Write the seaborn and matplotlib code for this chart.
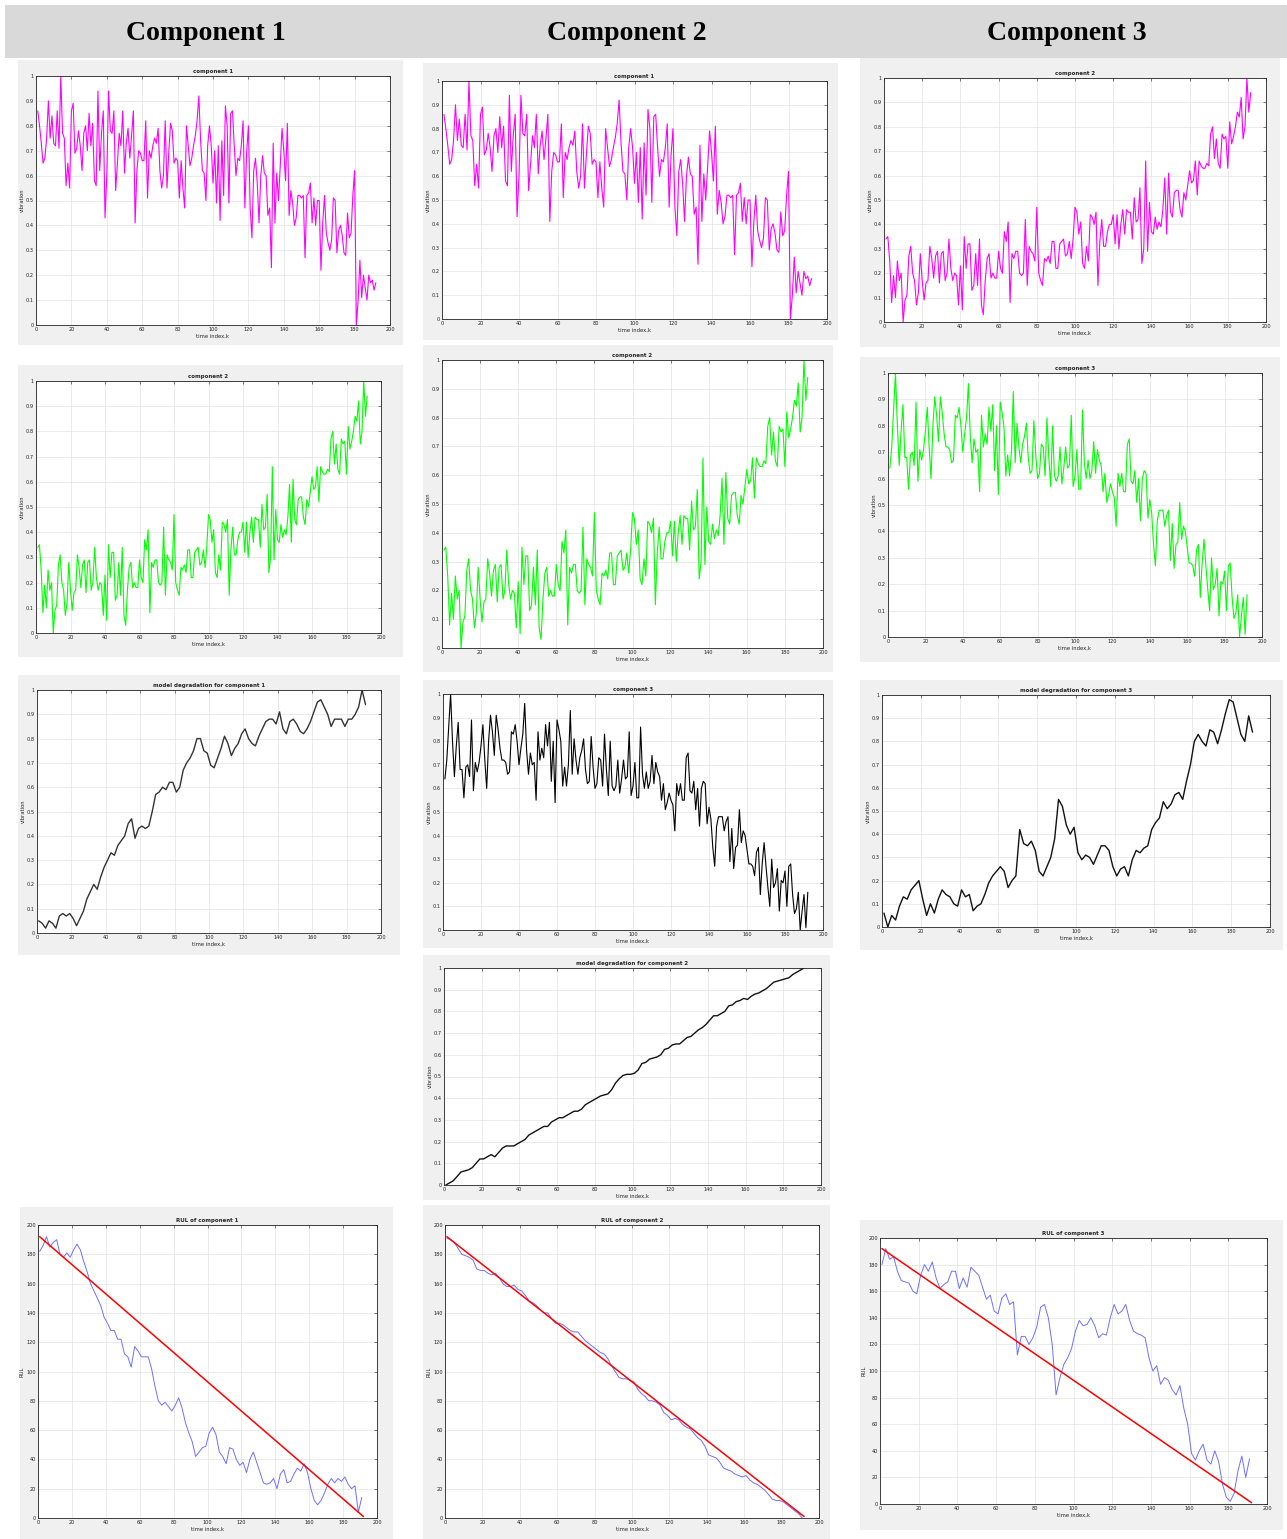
import numpy as np
import matplotlib
matplotlib.use("Agg")
from matplotlib import pyplot as plt
from matplotlib.patches import Rectangle
from matplotlib.ticker import FuncFormatter
import seaborn as sns

# raw vibration signals, one value per time index k = 1..192
comp1 = [0.86, 0.80, 0.73, 0.65, 0.67, 0.75, 0.90, 0.75, 0.84, 0.73,
         0.72, 0.86, 0.71, 1.00, 0.77, 0.75, 0.56, 0.65, 0.55, 0.86,
         0.89, 0.69, 0.71, 0.78, 0.72, 0.62, 0.77, 0.80, 0.70, 0.85,
         0.72, 0.81, 0.58, 0.56, 0.94, 0.62, 0.77, 0.86, 0.43, 0.60,
         0.94, 0.78, 0.77, 0.86, 0.54, 0.65, 0.77, 0.72, 0.86, 0.61,
         0.73, 0.79, 0.67, 0.76, 0.86, 0.41, 0.62, 0.70, 0.69, 0.66,
         0.66, 0.82, 0.51, 0.70, 0.67, 0.72, 0.75, 0.73, 0.79, 0.62,
         0.55, 0.60, 0.82, 0.55, 0.69, 0.81, 0.78, 0.65, 0.67, 0.66,
         0.51, 0.66, 0.55, 0.47, 0.80, 0.72, 0.64, 0.67, 0.72, 0.76,
         0.82, 0.92, 0.74, 0.62, 0.61, 0.50, 0.72, 0.80, 0.72, 0.57,
         0.70, 0.49, 0.72, 0.42, 0.74, 0.52, 0.88, 0.80, 0.49, 0.85,
         0.86, 0.72, 0.60, 0.67, 0.66, 0.72, 0.82, 0.47, 0.69, 0.80,
         0.47, 0.35, 0.62, 0.67, 0.57, 0.41, 0.60, 0.68, 0.61, 0.60,
         0.44, 0.47, 0.23, 0.73, 0.41, 0.61, 0.50, 0.64, 0.79, 0.70,
         0.58, 0.81, 0.44, 0.54, 0.49, 0.40, 0.43, 0.52, 0.52, 0.51,
         0.52, 0.27, 0.52, 0.53, 0.57, 0.41, 0.51, 0.40, 0.50, 0.50,
         0.22, 0.41, 0.52, 0.37, 0.33, 0.30, 0.34, 0.51, 0.50, 0.29,
         0.38, 0.40, 0.36, 0.29, 0.28, 0.45, 0.35, 0.37, 0.52, 0.62,
         0.00, 0.10, 0.26, 0.11, 0.20, 0.15, 0.10, 0.20, 0.17, 0.18,
         0.14, 0.17]

comp2 = [0.34, 0.35, 0.25, 0.08, 0.19, 0.10, 0.25, 0.17, 0.20, 0.00,
         0.09, 0.11, 0.27, 0.31, 0.20, 0.17, 0.07, 0.12, 0.28, 0.17,
         0.09, 0.16, 0.17, 0.31, 0.26, 0.18, 0.27, 0.29, 0.16, 0.28,
         0.29, 0.17, 0.20, 0.34, 0.22, 0.17, 0.20, 0.19, 0.07, 0.23,
         0.05, 0.35, 0.22, 0.32, 0.32, 0.13, 0.15, 0.28, 0.15, 0.34,
         0.07, 0.03, 0.17, 0.26, 0.28, 0.18, 0.20, 0.18, 0.18, 0.29,
         0.22, 0.20, 0.37, 0.33, 0.41, 0.08, 0.28, 0.26, 0.29, 0.29,
         0.20, 0.19, 0.20, 0.42, 0.15, 0.31, 0.29, 0.28, 0.25, 0.47,
         0.20, 0.17, 0.15, 0.26, 0.25, 0.27, 0.24, 0.33, 0.33, 0.22,
         0.22, 0.32, 0.33, 0.34, 0.27, 0.28, 0.33, 0.26, 0.34, 0.47,
         0.45, 0.36, 0.41, 0.24, 0.22, 0.31, 0.25, 0.44, 0.43, 0.40,
         0.45, 0.15, 0.33, 0.42, 0.31, 0.31, 0.37, 0.40, 0.40, 0.44,
         0.32, 0.44, 0.30, 0.40, 0.46, 0.36, 0.46, 0.45, 0.45, 0.34,
         0.51, 0.41, 0.42, 0.55, 0.24, 0.30, 0.66, 0.29, 0.49, 0.37,
         0.36, 0.43, 0.38, 0.41, 0.39, 0.46, 0.59, 0.36, 0.61, 0.45,
         0.43, 0.53, 0.54, 0.54, 0.46, 0.43, 0.53, 0.50, 0.56, 0.62,
         0.57, 0.58, 0.66, 0.52, 0.66, 0.64, 0.63, 0.63, 0.65, 0.64,
         0.77, 0.80, 0.67, 0.75, 0.65, 0.63, 0.77, 0.75, 0.76, 0.63,
         0.82, 0.73, 0.76, 0.80, 0.86, 0.84, 0.92, 0.75, 0.80, 1.00,
         0.86, 0.94]

comp3 = [0.64, 0.72, 0.86, 1.00, 0.80, 0.65, 0.78, 0.88, 0.68, 0.68,
         0.56, 0.69, 0.70, 0.65, 0.89, 0.59, 0.71, 0.67, 0.71, 0.78,
         0.87, 0.72, 0.60, 0.80, 0.91, 0.84, 0.74, 0.91, 0.85, 0.77,
         0.72, 0.72, 0.71, 0.66, 0.67, 0.84, 0.83, 0.87, 0.80, 0.70,
         0.77, 0.83, 0.96, 0.76, 0.66, 0.75, 0.70, 0.71, 0.55, 0.84,
         0.72, 0.77, 0.73, 0.87, 0.78, 0.88, 0.63, 0.80, 0.54, 0.89,
         0.85, 0.80, 0.61, 0.69, 0.61, 0.70, 0.93, 0.66, 0.81, 0.72,
         0.66, 0.73, 0.76, 0.81, 0.68, 0.62, 0.63, 0.82, 0.69, 0.60,
         0.62, 0.73, 0.72, 0.61, 0.83, 0.68, 0.57, 0.80, 0.61, 0.59,
         0.61, 0.72, 0.58, 0.64, 0.72, 0.64, 0.65, 0.84, 0.57, 0.61,
         0.71, 0.56, 0.56, 0.86, 0.66, 0.60, 0.67, 0.60, 0.63, 0.74,
         0.62, 0.71, 0.67, 0.65, 0.55, 0.62, 0.51, 0.54, 0.58, 0.55,
         0.53, 0.42, 0.62, 0.57, 0.62, 0.55, 0.55, 0.73, 0.75, 0.59,
         0.58, 0.63, 0.51, 0.60, 0.44, 0.60, 0.63, 0.62, 0.45, 0.52,
         0.47, 0.35, 0.27, 0.44, 0.48, 0.48, 0.48, 0.42, 0.46, 0.48,
         0.29, 0.43, 0.26, 0.35, 0.36, 0.51, 0.37, 0.42, 0.40, 0.34,
         0.28, 0.28, 0.27, 0.23, 0.33, 0.35, 0.15, 0.28, 0.37, 0.27,
         0.18, 0.10, 0.30, 0.18, 0.20, 0.26, 0.08, 0.21, 0.20, 0.25,
         0.10, 0.27, 0.28, 0.15, 0.07, 0.09, 0.16, 0.00, 0.08, 0.15,
         0.01, 0.16]

# model degradation curves, read at odd time indices k = 1, 3, ..., 191
degr1 = [0.05, 0.04, 0.02, 0.05, 0.04, 0.02, 0.07, 0.08, 0.07, 0.08,
         0.06, 0.03, 0.06, 0.09, 0.14, 0.17, 0.20, 0.18, 0.23, 0.27,
         0.30, 0.33, 0.32, 0.36, 0.38, 0.40, 0.45, 0.47, 0.39, 0.43,
         0.44, 0.43, 0.44, 0.50, 0.57, 0.58, 0.60, 0.59, 0.62, 0.62,
         0.58, 0.60, 0.67, 0.70, 0.72, 0.75, 0.80, 0.80, 0.75, 0.74,
         0.69, 0.68, 0.72, 0.76, 0.81, 0.78, 0.73, 0.76, 0.78, 0.82,
         0.84, 0.80, 0.78, 0.77, 0.81, 0.84, 0.87, 0.88, 0.88, 0.86,
         0.91, 0.84, 0.82, 0.87, 0.88, 0.86, 0.83, 0.82, 0.84, 0.87,
         0.91, 0.95, 0.96, 0.93, 0.90, 0.85, 0.88, 0.88, 0.88, 0.85,
         0.88, 0.88, 0.90, 0.93, 1.00, 0.94]

degr2 = [0.00, 0.01, 0.02, 0.04, 0.06, 0.065, 0.07, 0.08, 0.10, 0.12,
         0.12, 0.13, 0.14, 0.13, 0.15, 0.17, 0.18, 0.18, 0.18, 0.19,
         0.20, 0.21, 0.23, 0.24, 0.25, 0.26, 0.27, 0.27, 0.29, 0.30,
         0.31, 0.31, 0.32, 0.33, 0.34, 0.34, 0.35, 0.37, 0.38, 0.39,
         0.40, 0.41, 0.415, 0.42, 0.44, 0.47, 0.49, 0.505, 0.51, 0.51,
         0.515, 0.53, 0.56, 0.565, 0.58, 0.585, 0.59, 0.60, 0.625, 0.63,
         0.645, 0.65, 0.65, 0.665, 0.68, 0.685, 0.70, 0.715, 0.725, 0.74,
         0.76, 0.78, 0.78, 0.79, 0.80, 0.825, 0.83, 0.845, 0.85, 0.86,
         0.855, 0.87, 0.88, 0.885, 0.895, 0.905, 0.92, 0.935, 0.94, 0.945,
         0.95, 0.955, 0.97, 0.98, 0.99, 1.00]

degr3 = [0.06, 0.00, 0.05, 0.03, 0.09, 0.13, 0.12, 0.16, 0.18, 0.20,
         0.12, 0.05, 0.10, 0.06, 0.12, 0.16, 0.14, 0.13, 0.10, 0.09,
         0.16, 0.13, 0.14, 0.07, 0.09, 0.10, 0.14, 0.19, 0.22, 0.24,
         0.26, 0.24, 0.17, 0.20, 0.22, 0.42, 0.36, 0.35, 0.37, 0.33,
         0.24, 0.22, 0.26, 0.30, 0.38, 0.55, 0.52, 0.44, 0.40, 0.43,
         0.32, 0.29, 0.31, 0.30, 0.27, 0.31, 0.35, 0.35, 0.33, 0.26,
         0.22, 0.25, 0.26, 0.22, 0.29, 0.33, 0.32, 0.34, 0.35, 0.42,
         0.45, 0.47, 0.54, 0.51, 0.53, 0.57, 0.58, 0.55, 0.63, 0.70,
         0.80, 0.83, 0.80, 0.78, 0.85, 0.84, 0.79, 0.85, 0.92, 0.98,
         0.97, 0.90, 0.83, 0.80, 0.91, 0.84]

# estimated RUL, read at odd time indices k = 1, 3, ..., 191
rul1 = [182, 186, 192, 185, 188, 190, 180, 178, 181, 178,
        183, 187, 183, 175, 168, 160, 155, 150, 145, 137,
        133, 128, 128, 122, 122, 112, 110, 103, 117, 114,
        110, 110, 110, 102, 90, 80, 77, 79, 76, 73,
        77, 82, 75, 65, 58, 52, 42, 45, 48, 49,
        58, 62, 57, 45, 42, 37, 48, 47, 40, 36,
        38, 31, 40, 45, 38, 31, 24, 23, 24, 27,
        20, 30, 33, 24, 25, 30, 34, 32, 37, 31,
        20, 12, 9, 12, 17, 23, 27, 24, 27, 25,
        28, 23, 20, 22, 4, 14]

rul2 = [191, 190, 188, 184, 180, 179, 178, 176, 170, 169,
        169, 167, 166, 167, 164, 160, 158, 158, 159, 156,
        155, 152, 148, 147, 145, 142, 140, 140, 136, 133,
        133, 132, 130, 128, 127, 127, 124, 121, 119, 117,
        115, 113, 112, 109, 104, 100, 96, 95, 95, 94,
        93, 88, 85, 83, 80, 80, 79, 77, 72, 70,
        67, 68, 67, 64, 62, 61, 58, 55, 53, 49,
        43, 42, 41, 38, 34, 33, 32, 30, 29, 28,
        29, 26, 24, 23, 21, 19, 16, 13, 12, 12,
        11, 9, 7, 5, 3, 0]

rul3 = [180, 192, 184, 186, 175, 168, 167, 166, 160, 158,
        172, 180, 175, 182, 170, 162, 165, 167, 175, 175,
        162, 170, 163, 178, 175, 172, 163, 154, 157, 145,
        143, 155, 158, 150, 152, 112, 126, 126, 120, 125,
        133, 148, 150, 140, 120, 82, 95, 105, 110, 117,
        130, 138, 134, 135, 140, 134, 125, 128, 127, 140,
        150, 143, 145, 150, 138, 130, 128, 127, 125, 110,
        100, 104, 90, 95, 93, 86, 82, 89, 72, 60,
        38, 33, 40, 45, 33, 30, 40, 32, 15, 5,
        2, 8, 25, 36, 20, 34]

# true RUL straight line (end points)
true_k = [1, 192]
true_rul = [192, 1]

headers = ["Component 1", "Component 2", "Component 3"]

W, H = 1287, 1539

sns.set_style("white")
fig = plt.figure(figsize=(W / 100, H / 100), dpi=100)
fig.patch.set_facecolor("white")


def fbox(x0, y0, x1, y1):
    """pixel box (top-left origin) -> figure fraction [l, b, w, h]"""
    return [x0 / W, 1 - y1 / H, (x1 - x0) / W, (y1 - y0) / H]


def add_bg(x0, y0, x1, y1, color):
    l, b, w, h = fbox(x0, y0, x1, y1)
    fig.add_artist(Rectangle((l, b), w, h, transform=fig.transFigure,
                             facecolor=color, edgecolor="none", zorder=0))


fmt = FuncFormatter(lambda v, p: "%g" % round(v, 2))


def panel(bg, box, title, y, color, lw=0.8, step=1, ylabel="vibration", rul=False):
    add_bg(*bg, "#f0f0f0")
    ax = fig.add_axes(fbox(*box))
    ax.set_facecolor("white")
    x = np.arange(1, step * len(y) + 1, step)
    sns.lineplot(x=x, y=y, ax=ax, color=color, linewidth=lw, estimator=None, sort=False)
    if rul:
        sns.lineplot(x=true_k, y=true_rul, ax=ax, color="#ff0000", linewidth=1.1,
                     estimator=None, sort=False)
        ax.set_ylim(0, 200)
        ax.set_yticks(np.arange(0, 201, 20))
    else:
        ax.set_ylim(0, 1)
        ax.set_yticks(np.arange(0, 1.01, 0.1))
    ax.set_xlim(0, 200)
    ax.set_xticks(np.arange(0, 201, 20))
    ax.yaxis.set_major_formatter(fmt)
    ax.grid(True, color="#e3e3e3", linewidth=0.5)
    ax.set_axisbelow(True)
    for s in ax.spines.values():
        s.set_linewidth(0.6)
        s.set_color("#222222")
    ax.tick_params(direction="in", length=2, width=0.4, labelsize=3.6, pad=1.5,
                   top=True, right=True, colors="#222222")
    ax.set_title(title, fontsize=4, fontweight="bold", pad=2)
    ax.set_xlabel("time index,k", fontsize=3.8, labelpad=1)
    ax.set_ylabel(ylabel, fontsize=3.8, labelpad=1)
    return ax


# header band
add_bg(5, 5, 1287, 58, "#d9d9d9")
for cx, h in zip([206, 627, 1067], headers):
    fig.text(cx / W, 1 - 33 / H, h, ha="center", va="center", fontsize=20,
             fontweight="bold", family="Liberation Serif", color="black")

# column 1
panel((18, 60, 403, 345), (36, 76, 390, 325), "component 1", comp1, "#ff00ff")
panel((18, 365, 403, 657), (36, 381, 381, 633), "component 2", comp2, "#00ff00")
panel((18, 675, 400, 955), (37, 690, 381, 933), "model degradation for component 1",
      degr1, "#333333", lw=1.0, step=2)
panel((20, 1207, 393, 1539), (38, 1225, 377, 1518), "RUL of component 1",
      rul1, "#6f6fff", lw=0.7, step=2, ylabel="RUL", rul=True)

# column 2
panel((423, 63, 838, 340), (442, 81, 827, 319), "component 1", comp1, "#ff00ff")
panel((423, 345, 833, 672), (442, 360, 823, 648), "component 2", comp2, "#00ff00")
panel((423, 680, 833, 948), (443, 694, 823, 930), "component 3", comp3, "#000000")
panel((423, 955, 830, 1200), (444, 968, 821, 1185), "model degradation for component 2",
      degr2, "#111111", lw=1.0, step=2)
panel((423, 1205, 830, 1539), (445, 1225, 819, 1518), "RUL of component 2",
      rul2, "#6f6fff", lw=0.7, step=2, ylabel="RUL", rul=True)

# column 3
panel((860, 58, 1280, 347), (884, 78, 1266, 322), "component 2", comp2, "#ff00ff")
panel((860, 357, 1280, 662), (888, 373, 1262, 637), "component 3", comp3, "#00ff00")
panel((860, 680, 1283, 950), (882, 695, 1270, 927), "model degradation for component 3",
      degr3, "#111111", lw=1.0, step=2)
panel((860, 1220, 1283, 1530), (880, 1238, 1267, 1504), "RUL of component 3",
      rul3, "#6f6fff", lw=0.7, step=2, ylabel="RUL", rul=True)

fig.savefig("out.png", dpi=100)
